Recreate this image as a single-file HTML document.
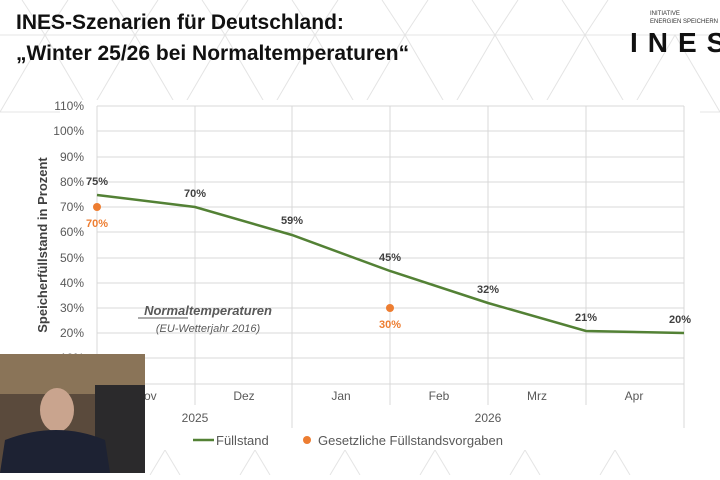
<!DOCTYPE html>
<html><head><meta charset="utf-8"><style>
body{margin:0;width:720px;height:475px;overflow:hidden;background:#fff;font-family:"Liberation Sans",sans-serif}
</style></head><body>
<svg width="720" height="475" xmlns="http://www.w3.org/2000/svg" font-family="Liberation Sans, sans-serif">
<g stroke="#e4e4e4" stroke-width="1" fill="none">
<line x1="0" y1="35" x2="720" y2="35"/>
<line x1="0" y1="112" x2="720" y2="112"/>
<path d="M0,112 L45,35 L90,112 L135,35 L180,112 L225,35 L270,112 L315,35 L360,112 L405,35 L450,112 L495,35 L540,112 L585,35 L630,112 L675,35 L720,112"/>
<path d="M22,0 L45,35 L68,0 M112,0 L135,35 L158,0 M202,0 L225,35 L248,0 M292,0 L315,35 L338,0 M382,0 L405,35 L428,0 M472,0 L495,35 L518,0 M562,0 L585,35 L608,0"/>
<path d="M150,475 L165,450 L180,475 M240,475 L255,450 L270,475 M330,475 L345,450 L360,475 M420,475 L435,450 L450,475 M510,475 L525,450 L540,475 M600,475 L615,450 L630,475"/>
</g>
<text x="16" y="29" font-size="21" font-weight="bold" fill="#111">INES-Szenarien für Deutschland:</text>
<text x="16" y="60" font-size="21" font-weight="bold" fill="#111">„Winter 25/26 bei Normaltemperaturen“</text>
<text x="650" y="15" font-size="6" fill="#333">INITIATIVE</text>
<text x="650" y="23" font-size="6" fill="#333">ENERGIEN SPEICHERN</text>
<text x="630" y="52" font-size="28" font-weight="bold" fill="#111" letter-spacing="10">INES</text>
<rect x="60" y="100" width="640" height="350" fill="#fff"/>
<g stroke="#d9d9d9" stroke-width="1">
<line x1="97" y1="106" x2="684" y2="106"/><line x1="97" y1="131" x2="684" y2="131"/><line x1="97" y1="157" x2="684" y2="157"/><line x1="97" y1="182" x2="684" y2="182"/><line x1="97" y1="207" x2="684" y2="207"/><line x1="97" y1="232" x2="684" y2="232"/><line x1="97" y1="258" x2="684" y2="258"/><line x1="97" y1="283" x2="684" y2="283"/><line x1="97" y1="308" x2="684" y2="308"/><line x1="97" y1="333" x2="684" y2="333"/><line x1="97" y1="358" x2="684" y2="358"/><line x1="97" y1="384" x2="684" y2="384"/>
<line x1="97" y1="106" x2="97" y2="428"/><line x1="195" y1="106" x2="195" y2="405"/><line x1="292" y1="106" x2="292" y2="428"/><line x1="390" y1="106" x2="390" y2="405"/><line x1="488" y1="106" x2="488" y2="405"/><line x1="586" y1="106" x2="586" y2="405"/><line x1="684" y1="106" x2="684" y2="428"/>
</g>
<g font-size="12" fill="#595959" text-anchor="end">
<text x="84" y="110">110%</text><text x="84" y="135">100%</text><text x="84" y="161">90%</text><text x="84" y="186">80%</text><text x="84" y="211">70%</text><text x="84" y="236">60%</text><text x="84" y="262">50%</text><text x="84" y="287">40%</text><text x="84" y="312">30%</text><text x="84" y="337">20%</text><text x="84" y="362">10%</text>
</g>
<text transform="translate(47,245) rotate(-90)" font-size="13" font-weight="bold" fill="#404040" text-anchor="middle">Speicherfüllstand in Prozent</text>
<g font-size="12" fill="#595959" text-anchor="middle">
<text x="146" y="400">Nov</text><text x="244" y="400">Dez</text><text x="341" y="400">Jan</text><text x="439" y="400">Feb</text><text x="537" y="400">Mrz</text><text x="634" y="400">Apr</text>
<text x="195" y="422">2025</text><text x="488" y="422">2026</text>
</g>
<polyline points="97,195 195,207 292,235 390,271 488,303 586,331 684,333" fill="none" stroke="#538135" stroke-width="2.5"/>
<g font-size="11" font-weight="bold" fill="#404040" text-anchor="middle">
<text x="97" y="185">75%</text><text x="195" y="197">70%</text><text x="292" y="224">59%</text><text x="390" y="261">45%</text><text x="488" y="293">32%</text><text x="586" y="321">21%</text><text x="680" y="323">20%</text>
</g>
<circle cx="97" cy="207" r="4" fill="#ed7d31"/><circle cx="390" cy="308" r="4" fill="#ed7d31"/>
<g font-size="11" font-weight="bold" fill="#ed7d31" text-anchor="middle"><text x="97" y="227">70%</text><text x="390" y="328">30%</text></g>
<text x="208" y="315" font-size="13" font-weight="bold" font-style="italic" fill="#595959" text-anchor="middle">Normaltemperaturen</text>
<line x1="138" y1="318" x2="188" y2="318" stroke="#595959" stroke-width="1"/>
<text x="208" y="332" font-size="11" font-style="italic" fill="#595959" text-anchor="middle">(EU-Wetterjahr 2016)</text>
<line x1="193" y1="440" x2="214" y2="440" stroke="#538135" stroke-width="2.5"/>
<text x="216" y="445" font-size="13" fill="#595959">Füllstand</text>
<circle cx="307" cy="440" r="4" fill="#ed7d31"/>
<text x="318" y="445" font-size="13" fill="#595959">Gesetzliche Füllstandsvorgaben</text>
<rect x="0" y="354" width="145" height="119" fill="#5a4a3c"/>
<rect x="0" y="354" width="145" height="40" fill="#8a7458"/>
<rect x="95" y="385" width="50" height="88" fill="#2b2a2c"/>
<ellipse cx="57" cy="410" rx="17" ry="22" fill="#c9a48e"/>
<path d="M0,473 L5,440 Q57,420 105,440 L110,473 Z" fill="#1d2233"/>
</svg>
</body></html>
